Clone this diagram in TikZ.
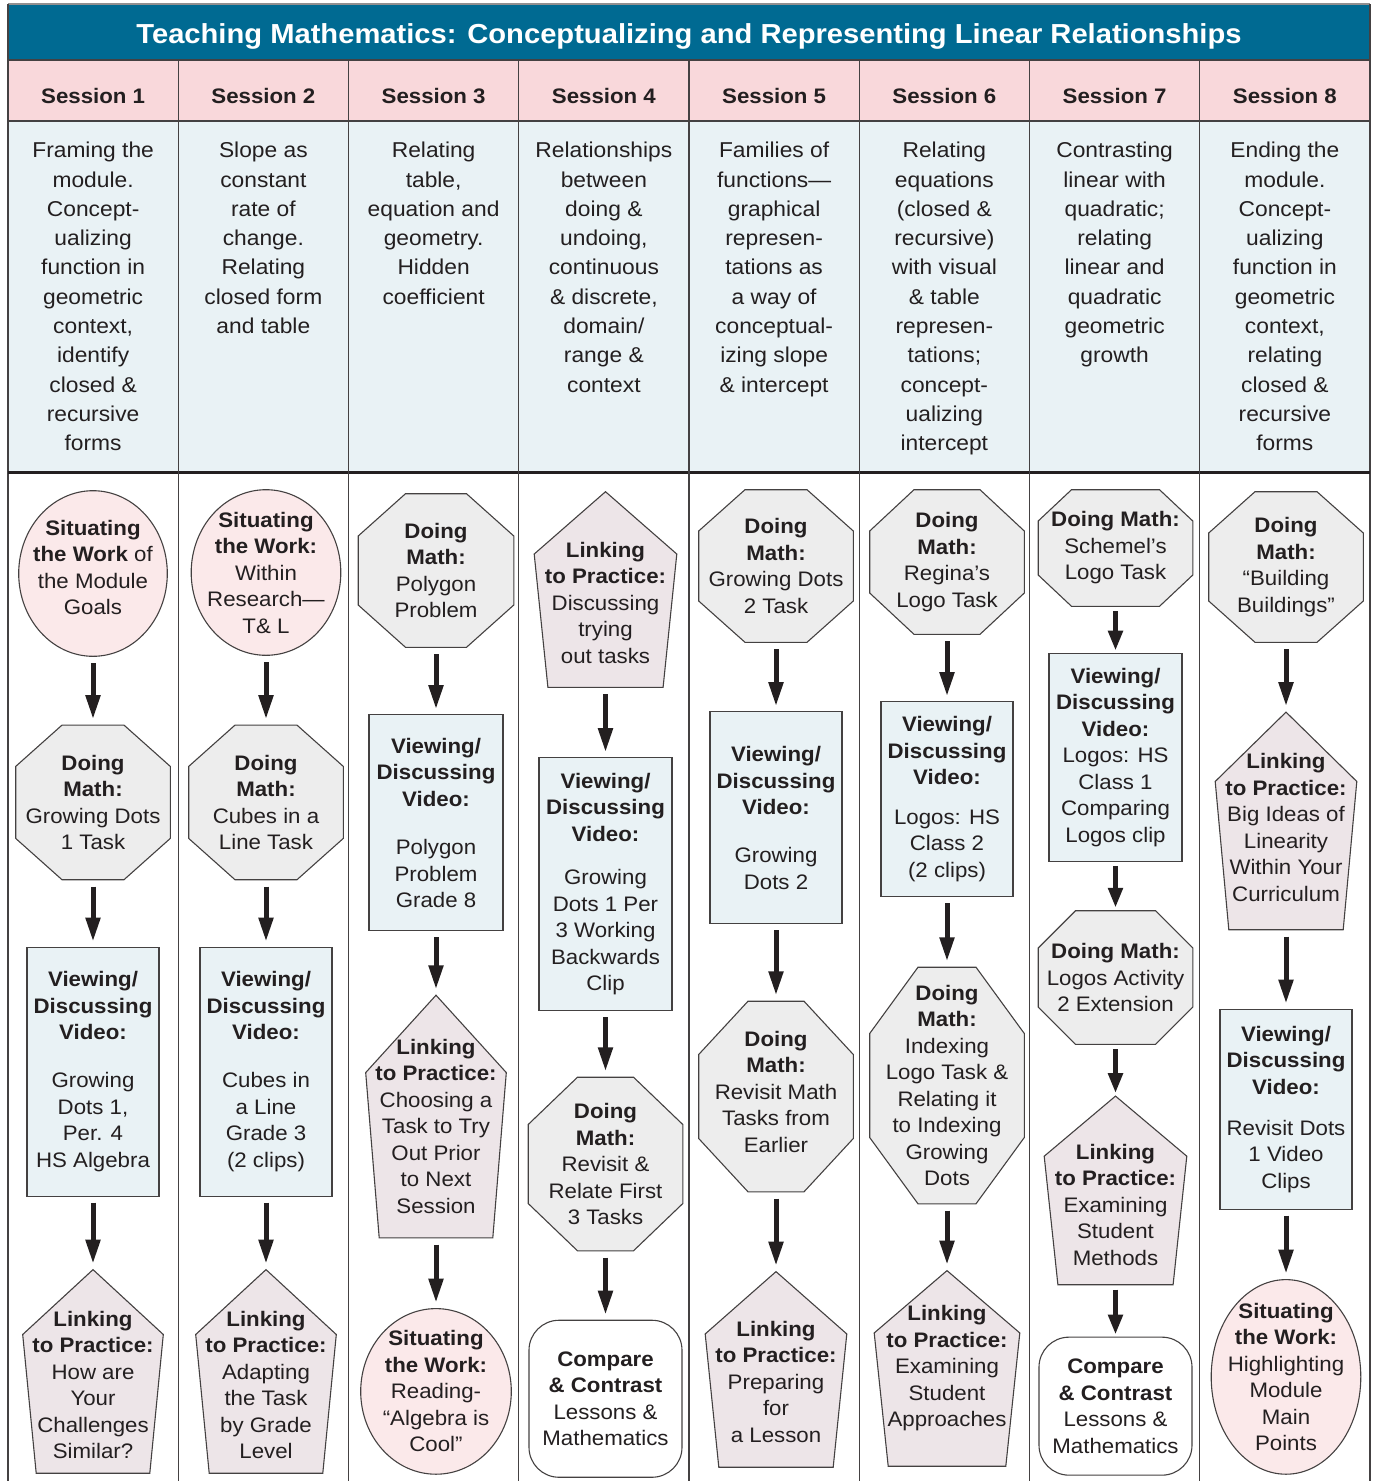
\documentclass[tikz,border=0pt]{standalone}
\usepackage{fontspec}
\setmainfont{Liberation Sans}[FakeStretch=1.06]
\usetikzlibrary{positioning,arrows.meta}

\definecolor{titleblue}{HTML}{006A92}
\definecolor{headpink}{HTML}{F9D8DB}
\definecolor{descblue}{HTML}{E9F2F5}
\definecolor{sitpink}{HTML}{FBE9EA}
\definecolor{dogray}{HTML}{EDEDED}
\definecolor{linkgray}{HTML}{EDE5E8}
\definecolor{ink}{HTML}{231F20}

\begin{document}
\begin{tikzpicture}[x=1pt,y=-1pt,text=ink,
    every node/.style={align=center,inner sep=0pt,font=\fontsize{21}{26.5}\selectfont},
    outline/.style={draw=ink!85,line width=1.1pt},
    situate/.style 2 args={minimum width=#1,minimum height=#2,path picture={
        \draw[outline,fill=sitpink] (path picture bounding box.center)
            ellipse [x radius={(#1-1.4)/2*1pt},y radius={(#2-1.4)/2*1pt}];}},
    domath/.style n args={4}{minimum width=#1,minimum height=#2,path picture={
        \draw[outline,fill=dogray]
            ([xshift=#3pt,yshift=-.7pt]path picture bounding box.north west) --
            ([xshift=-#3pt,yshift=-.7pt]path picture bounding box.north east) --
            ([xshift=-.7pt,yshift=-#4pt]path picture bounding box.north east) --
            ([xshift=-.7pt,yshift=#4pt]path picture bounding box.south east) --
            ([xshift=-#3pt,yshift=.7pt]path picture bounding box.south east) --
            ([xshift=#3pt,yshift=.7pt]path picture bounding box.south west) --
            ([xshift=.7pt,yshift=#4pt]path picture bounding box.south west) --
            ([xshift=.7pt,yshift=-#4pt]path picture bounding box.north west) -- cycle;}},
    linking/.style 2 args={minimum width=#1,minimum height=#2,path picture={
        \draw[outline,fill=linkgray]
            ([yshift=-.7pt]path picture bounding box.north) --
            ([xshift=-.7pt,yshift={-.32*#2}]path picture bounding box.north east) --
            ([xshift={-.1*#1},yshift=.7pt]path picture bounding box.south east) --
            ([xshift={.1*#1},yshift=.7pt]path picture bounding box.south west) --
            ([xshift=.7pt,yshift={-.32*#2}]path picture bounding box.north west) -- cycle;}},
    video/.style 2 args={outline,fill=descblue,minimum width=#1,minimum height=#2},
    compare/.style 2 args={outline,fill=white,rounded corners=30pt,minimum width=#1,minimum height=#2},
    flow/.style={draw=ink,line width=5pt,-{Triangle[length=24pt,width=14pt]},shorten <=6pt,shorten >=5pt},
    ]
    \useasboundingbox (0,0) rectangle (1373,1481);

    % table
    \fill[titleblue] (8,4) rectangle (1370,60);
    \fill[headpink] (8,60) rectangle (1370,121);
    \fill[descblue] (8,121) rectangle (1370,472);
    \draw[ink!50,line width=1.5pt] (8,4) -- (1370,4);
    \draw[ink!85,line width=1.6pt] (8,4) -- (8,1481) (1370,4) -- (1370,1481);
    \draw[ink!85,line width=1.3pt] (8,60) -- (1370,60) (8,121) -- (1370,121);
    \draw[ink,line width=3pt] (8,472) -- (1370,472);
    \foreach \i in {1,...,7}
        \draw[ink!85,line width=1.3pt] ({8+170.25*\i},60) -- ({8+170.25*\i},1481);

    \node[font=\bfseries\fontsize{27.5}{30}\selectfont,text=white] (title) at (689,36)
        {Teaching Mathematics: Conceptualizing and Representing Linear Relationships};
    \foreach \i in {1,...,8}
        \node[font=\bfseries\fontsize{21}{25}\selectfont] (s\i) at ({8+170.25*(\i-.5)},96) {Session \i};
    \foreach \i/\txt in {
        1/{Framing the\\module.\\Concept-\\ualizing\\function in\\geometric\\context,\\identify\\closed \&\\recursive\\forms},
        2/{Slope as\\constant\\rate of\\change.\\Relating\\closed form\\and table},
        3/{Relating\\table,\\equation and\\geometry.\\Hidden\\coefficient},
        4/{Relationships\\between\\doing \&\\undoing,\\continuous\\\& discrete,\\domain/\\range \&\\context},
        5/{Families of\\functions—\\graphical\\represen-\\tations as\\a way of\\conceptual-\\izing slope\\\& intercept},
        6/{Relating\\equations\\(closed \&\\recursive)\\with visual\\\& table\\represen-\\tations;\\concept-\\ualizing\\intercept},
        7/{Contrasting\\linear with\\quadratic;\\relating\\linear and\\quadratic\\geometric\\growth},
        8/{Ending the\\module.\\Concept-\\ualizing\\function in\\geometric\\context,\\relating\\closed \&\\recursive\\forms}}
        \node[font=\fontsize{21.5}{29.3}\selectfont,anchor=north] (d\i) at ({8+170.25*(\i-.5)},142) {\txt};

    % session 1
    \node[situate={150}{167}] (c1a) at (93,573.5) {\textbf{Situating}\\\textbf{the Work} of\\the Module\\Goals\rule[-12pt]{0pt}{1pt}};
    \node[domath={156}{156}{47}{42},below=67pt of c1a] (c1b) {\textbf{Doing}\\\textbf{Math:}\\Growing Dots\\1 Task};
    \node[video={132}{249},below=66pt of c1b] (c1c) {\textbf{Viewing/}\\\textbf{Discussing}\\\textbf{Video:}\\[21.5pt]Growing\\Dots 1,\\Per. 4\\HS Algebra};
    \node[linking={142}{205},below=72pt of c1c] (c1d) {\rule{0pt}{42pt}\textbf{Linking}\\\textbf{to Practice:}\\How are\\Your\\Challenges\\Similar?};

    % session 2
    \node[situate={151}{167}] (c2a) at (266,572.5) {\textbf{Situating}\\\textbf{the Work:}\\Within\\Research—\\T\& L};
    \node[domath={156}{156}{47}{42},below=68pt of c2a] (c2b) {\textbf{Doing}\\\textbf{Math:}\\Cubes in a\\Line Task};
    \node[video={132}{249},below=66pt of c2b] (c2c) {\textbf{Viewing/}\\\textbf{Discussing}\\\textbf{Video:}\\[21.5pt]Cubes in\\a Line\\Grade 3\\(2 clips)};
    \node[linking={142}{205},below=72pt of c2c] (c2d) {\rule{0pt}{42pt}\textbf{Linking}\\\textbf{to Practice:}\\Adapting\\the Task\\by Grade\\Level};

    % session 3
    \node[domath={157}{155}{48}{43}] (c3a) at (436,570.5) {\textbf{Doing}\\\textbf{Math:}\\Polygon\\Problem};
    \node[video={134}{216},below=66pt of c3a] (c3b) {\textbf{Viewing/}\\\textbf{Discussing}\\\textbf{Video:}\\[22pt]Polygon\\Problem\\Grade 8};
    \node[linking={142}{244},below=63pt of c3b] (c3c) {\rule{0pt}{35pt}\textbf{Linking}\\\textbf{to Practice:}\\Choosing a\\Task to Try\\Out Prior\\to Next\\Session};
    \node[situate={152}{167},below=69pt of c3c] (c3d) {\textbf{Situating}\\\textbf{the Work:}\\Reading-\\“Algebra is\\Cool”};

    % session 4
    \node[linking={144}{197}] (c4a) at (605.5,589.5) {\rule{0pt}{42pt}\textbf{Linking}\\\textbf{to Practice:}\\Discussing\\trying\\out tasks};
    \node[video={133}{253},below=69pt of c4a] (c4b) {\textbf{Viewing/}\\\textbf{Discussing}\\\textbf{Video:}\\[17pt]Growing\\Dots 1 Per\\3 Working\\Backwards\\Clip};
    \node[domath={156}{175}{50}{48},below=65pt of c4b] (c4c) {\textbf{Doing}\\\textbf{Math:}\\Revisit \&\\Relate First\\3 Tasks};
    \node[compare={153}{157},below=68pt of c4c] (c4d) {\textbf{Compare}\\\textbf{\& Contrast}\\Lessons \&\\Mathematics};

    % session 5
    \node[domath={156}{154}{47}{42}] (c5a) at (776,566) {\textbf{Doing}\\\textbf{Math:}\\Growing Dots\\2 Task};
    \node[video={132}{212},below=68pt of c5a] (c5b) {\textbf{Viewing/}\\\textbf{Discussing}\\\textbf{Video:}\\[21.5pt]Growing\\Dots 2};
    \node[domath={156}{192}{50}{54},below=76pt of c5b] (c5c) {\textbf{Doing}\\\textbf{Math:}\\Revisit Math\\Tasks from\\Earlier\rule[-10pt]{0pt}{1pt}};
    \node[linking={143}{197},below=78pt of c5c] (c5d) {\rule{0pt}{40pt}\textbf{Linking}\\\textbf{to Practice:}\\Preparing\\for\\a Lesson};

    % session 6
    \node[domath={156}{146}{45}{42}] (c6a) at (947,562) {\textbf{Doing}\\\textbf{Math:}\\Regina’s\\Logo Task};
    \node[video={132}{195},below=66pt of c6a] (c6b) {\textbf{Viewing/}\\\textbf{Discussing}\\\textbf{Video:}\\[13pt]Logos: HS\\Class 2\\(2 clips)};
    \node[domath={156}{238}{49}{67},below=69pt of c6b] (c6c) {\textbf{Doing}\\\textbf{Math:}\\Indexing\\Logo Task \&\\Relating it\\to Indexing\\Growing\\Dots};
    \node[linking={147}{197},below=65pt of c6c] (c6d) {\textbf{Linking}\\\textbf{to Practice:}\\Examining\\Student\\Approaches};

    % session 7
    \node[domath={156}{118}{34}{32}] (c7a) at (1115.5,548) {\textbf{Doing Math:}\\Schemel’s\\Logo Task};
    \node[video={133}{208},below=45.5pt of c7a] (c7b) {\textbf{Viewing/}\\\textbf{Discussing}\\\textbf{Video:}\\Logos: HS\\Class 1\\Comparing\\Logos clip};
    \node[domath={156}{135}{38}{38},below=48pt of c7b] (c7c) {\textbf{Doing Math:}\\Logos Activity\\2 Extension};
    \node[linking={144}{190},below=50pt of c7c] (c7d) {\rule{0pt}{44pt}\textbf{Linking}\\\textbf{to Practice:}\\Examining\\Student\\Methods};
    \node[compare={153}{138},below=51pt of c7d] (c7e) {\textbf{Compare}\\\textbf{\& Contrast}\\Lessons \&\\Mathematics};

    % session 8
    \node[domath={156}{152}{47}{42}] (c8a) at (1286,567) {\textbf{Doing}\\\textbf{Math:}\\“Building\\Buildings”};
    \node[linking={143}{219},below=68pt of c8a] (c8b) {\rule{0pt}{28pt}\textbf{Linking}\\\textbf{to Practice:}\\Big Ideas of\\Linearity\\Within Your\\Curriculum};
    \node[video={132}{200},below=78pt of c8b] (c8c) {\textbf{Viewing/}\\\textbf{Discussing}\\\textbf{Video:}\\[14.5pt]Revisit Dots\\1 Video\\Clips};
    \node[situate={151}{196},below=69pt of c8c] (c8d) {\textbf{Situating}\\\textbf{the Work:}\\Highlighting\\Module\\Main\\Points};

    % arrows
    \foreach \a/\b in {c1a/c1b,c1b/c1c,c1c/c1d,c2a/c2b,c2b/c2c,c2c/c2d,
                       c3a/c3b,c3b/c3c,c3c/c3d,c4a/c4b,c4b/c4c,c4c/c4d,
                       c5a/c5b,c5b/c5c,c5c/c5d,c6a/c6b,c6b/c6c,c6c/c6d,
                       c8a/c8b,c8b/c8c,c8c/c8d}
        \draw[flow] (\a) -- (\b);
    \foreach \a/\b in {c7a/c7b,c7b/c7c,c7c/c7d,c7d/c7e}
        \draw[flow,shorten <=4pt,shorten >=2pt,-{Triangle[length=20pt,width=14pt]}] (\a) -- (\b);
\end{tikzpicture}
\end{document}
